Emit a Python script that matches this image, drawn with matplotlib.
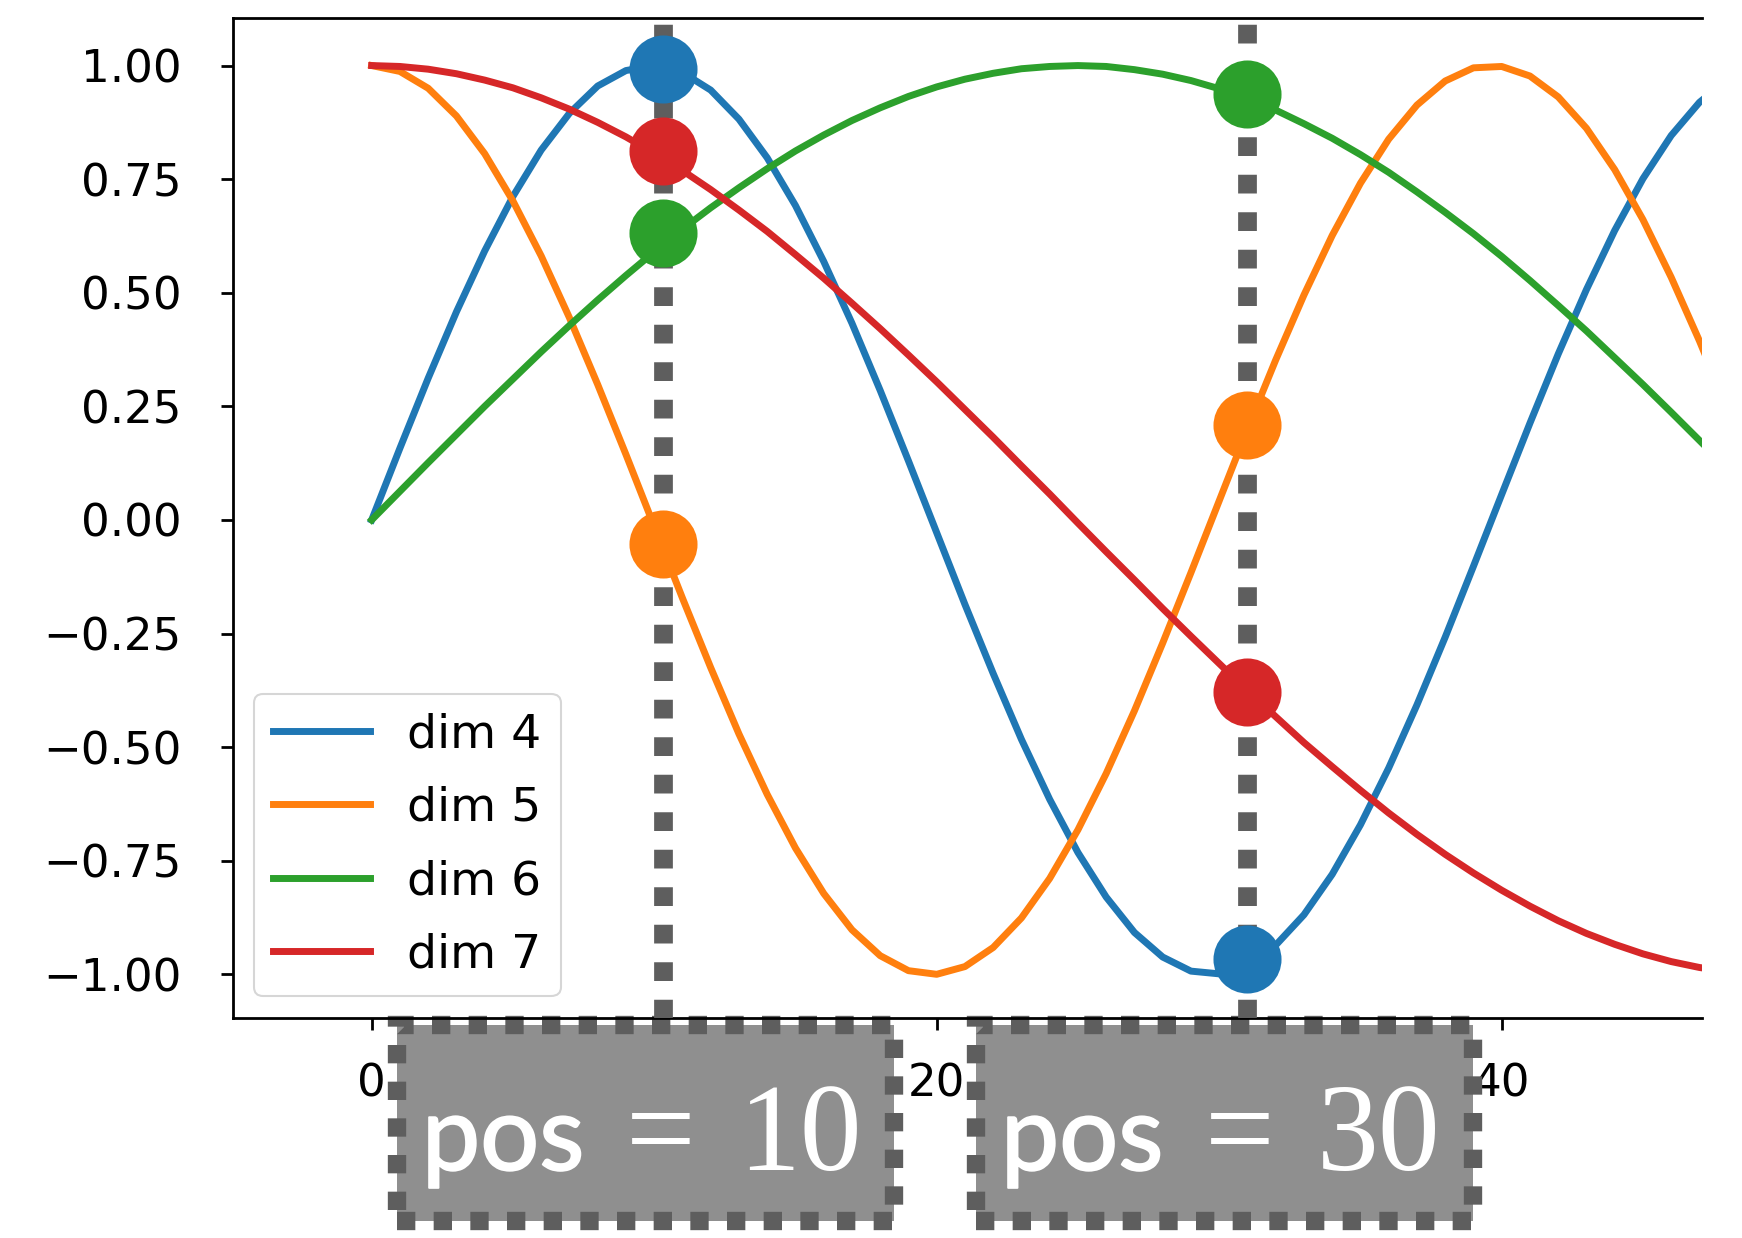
import matplotlib
matplotlib.use("Agg")
import matplotlib.pyplot as plt
import matplotlib.patheffects as pe
from matplotlib.patches import Rectangle

# ---------------- data ----------------
positions = list(range(49))
dim4 = [0.000, 0.158, 0.312, 0.458, 0.592, 0.712, 0.814, 0.895, 0.955, 0.989,
        1.000, 0.985, 0.946, 0.882, 0.797, 0.692, 0.569, 0.433, 0.285, 0.130,
        -0.028, -0.186, -0.338, -0.483, -0.615, -0.732, -0.830, -0.908, -0.962, -0.993,
        -0.999, -0.980, -0.936, -0.869, -0.780, -0.671, -0.546, -0.407, -0.258, -0.102,
        0.056, 0.213, 0.365, 0.507, 0.637, 0.751, 0.846, 0.919, 0.970]
dim5 = [1.000, 0.987, 0.950, 0.889, 0.806, 0.702, 0.581, 0.445, 0.298, 0.144,
        -0.014, -0.172, -0.325, -0.471, -0.604, -0.722, -0.822, -0.902, -0.959, -0.992,
        -1.000, -0.983, -0.941, -0.876, -0.789, -0.682, -0.558, -0.420, -0.271, -0.116,
        0.042, 0.200, 0.352, 0.495, 0.626, 0.741, 0.838, 0.913, 0.966, 0.995,
        0.998, 0.977, 0.931, 0.862, 0.771, 0.661, 0.534, 0.394, 0.244]
dim6 = [0.000, 0.063, 0.126, 0.188, 0.250, 0.310, 0.370, 0.428, 0.484, 0.538,
        0.590, 0.640, 0.687, 0.731, 0.773, 0.812, 0.847, 0.879, 0.907, 0.932,
        0.953, 0.970, 0.983, 0.993, 0.998, 1.000, 0.998, 0.991, 0.981, 0.967,
        0.949, 0.927, 0.902, 0.872, 0.840, 0.804, 0.765, 0.722, 0.677, 0.630,
        0.580, 0.527, 0.472, 0.416, 0.357, 0.298, 0.237, 0.175, 0.113]
dim7 = [1.000, 0.998, 0.992, 0.982, 0.968, 0.951, 0.929, 0.904, 0.875, 0.843,
        0.807, 0.769, 0.727, 0.682, 0.635, 0.584, 0.532, 0.477, 0.421, 0.363,
        0.304, 0.243, 0.182, 0.119, 0.057, -0.007, -0.070, -0.132, -0.195, -0.256,
        -0.316, -0.376, -0.433, -0.490, -0.543, -0.595, -0.645, -0.692, -0.736, -0.777,
        -0.815, -0.850, -0.882, -0.910, -0.934, -0.955, -0.972, -0.985, -0.994]
series = [dim4, dim5, dim6, dim7]
series_labels = ["dim 4", "dim 5", "dim 6", "dim 7"]
series_colors = ["#1f77b4", "#ff7f0e", "#2ca02c", "#d62728"]

# highlighted positions and the values marked on them
marker_x = [10.3, 31.0]
marker_dim4 = [0.993, -0.966]
marker_dim5 = [-0.054, 0.208]
marker_dim6 = [0.631, 0.937]
marker_dim7 = [0.812, -0.379]
marker_series = [marker_dim4, marker_dim5, marker_dim6, marker_dim7]
box_numbers = ["10", "30"]

xticks = [0, 20, 40]
yticks = [-1.00, -0.75, -0.50, -0.25, 0.00, 0.25, 0.50, 0.75, 1.00]

# ---------------- figure ----------------
W, H = 1742, 1238
DPI = 100
fig = plt.figure(figsize=(W / DPI, H / DPI), dpi=DPI)
ax = fig.add_axes([232.7 / W, 1 - 1017.7 / H, (1701.7 - 232.7) / W, (1017.7 - 18.3) / H])

for vals, lab, col in zip(series, series_labels, series_colors):
    ax.plot(positions, vals, color=col, lw=5.0, label=lab, zorder=2)

dot_col = "#5e5e5e"
for mx in marker_x:
    ax.axvline(mx, color=dot_col, lw=13.5, dashes=(1, 1), zorder=3,
               solid_capstyle="butt", dash_capstyle="butt")

for mvals, col in zip(marker_series, series_colors):
    ax.plot(marker_x, mvals, ls="none", marker="o", ms=49, color=col,
            markeredgewidth=0, zorder=4)

ax.set_xlim(-4.92, 47.08)
ax.set_ylim(-1.0955, 1.104)
ax.set_xticks(xticks)
ax.set_yticks(yticks)
ax.set_yticklabels([f"{v:.2f}".replace("-", "\u2212") for v in yticks])
ax.tick_params(axis="both", labelsize=32.5, length=8.6, width=2.0)
ax.tick_params(axis="y", pad=28)
ax.tick_params(axis="x", pad=24)
ax.spines["right"].set_visible(False)
for s in ["left", "top", "bottom"]:
    ax.spines[s].set_linewidth(2.0)

leg = ax.legend(loc="lower left", fontsize=34, framealpha=0.8,
                edgecolor="0.8", fancybox=True, handlelength=2.05,
                borderaxespad=0.45, labelspacing=0.6)
leg.get_frame().set_linewidth(1.5)

# ---------------- "pos = N" boxes ----------------
def fx(px):
    return px / W

def fy(py):
    return 1 - py / H

box_lefts = [397, 976]
box_w, box_top, box_bottom = 497, 1025, 1221
fill_col = "#8f8f8f"
thicken = [pe.withStroke(linewidth=1.4, foreground="white")]
for bl, num in zip(box_lefts, box_numbers):
    rect = Rectangle((fx(bl), fy(box_bottom)), box_w / W, (box_bottom - box_top) / H,
                     transform=fig.transFigure, facecolor=fill_col,
                     edgecolor=dot_col, lw=13.2, linestyle=(0, (1, 1)),
                     clip_on=False, zorder=2.2)
    ax.add_patch(rect)
    base = fy(1170)
    fig.text(fx(bl + 106), base, "pos", ha="center", va="baseline",
             color="white", fontsize=75, family="Lato", fontweight="normal",
             zorder=6, path_effects=thicken)
    fig.text(fx(bl + 264), base, "=", ha="center", va="baseline",
             color="white", fontsize=89, family="Liberation Serif", zorder=6)
    fig.text(fx(bl + 403), base, num, ha="center", va="baseline",
             color="white", fontsize=89, family="Liberation Serif", zorder=6)

fig.savefig("out.png", dpi=DPI)
